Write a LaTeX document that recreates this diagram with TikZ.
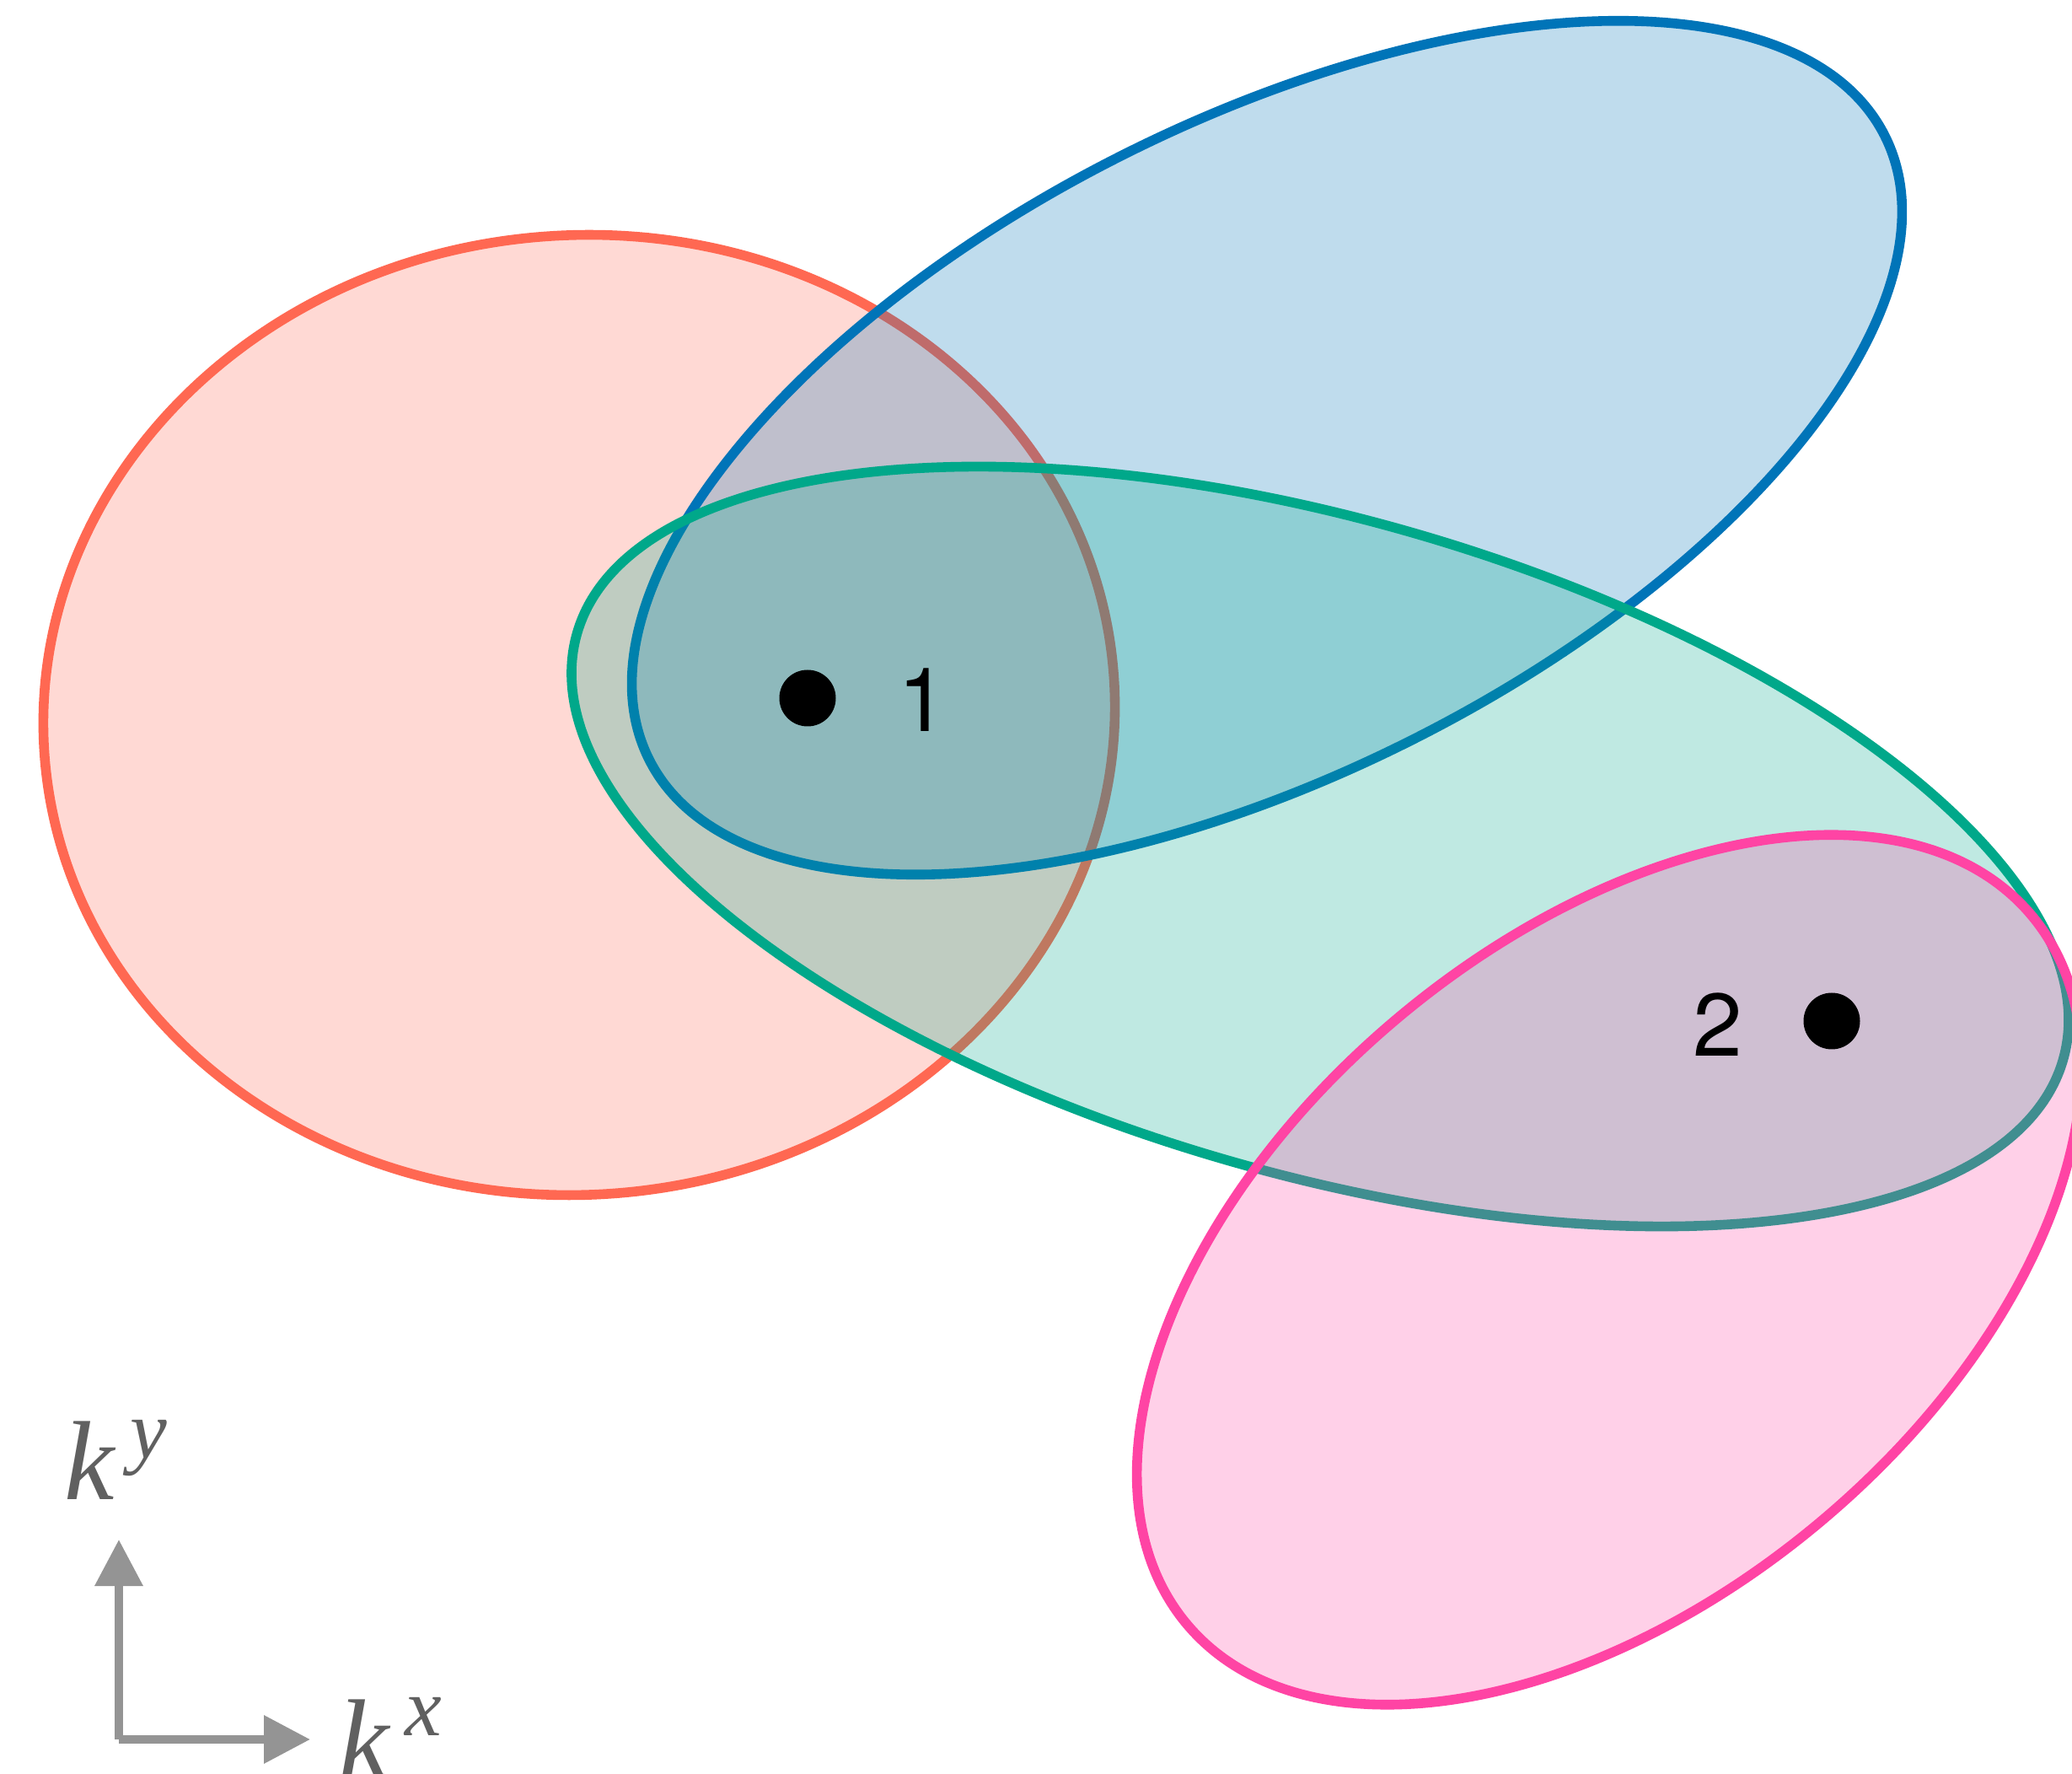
\documentclass[tikz,border=0pt]{standalone}
\usepackage{fontspec}
\usepackage{tikz}
\usetikzlibrary{arrows.meta,positioning}
\newfontfamily\helv{TeX Gyre Heros}
\newfontfamily\tms{Liberation Serif}
\newcommand{\kcomp}[1]{k\kern0.14em\raisebox{0.37em}{\fontsize{28}{29}\selectfont #1}}
\definecolor{regionA}{RGB}{255,104,82}
\definecolor{regionB}{RGB}{0,116,184}
\definecolor{regionC}{RGB}{0,168,138}
\definecolor{regionD}{RGB}{255,68,164}
\definecolor{axiscolor}{RGB}{148,148,148}
\definecolor{axislabel}{RGB}{96,96,96}

\begin{document}
\begin{tikzpicture}[
  region/.style={line width=3.3pt,fill opacity=0.25},
  pt/.style={circle,fill=black,inner sep=0pt,minimum size=0.67cm},
  ptlabel/.style={font=\helv\fontsize{30}{32}\selectfont,inner sep=0pt},
  axis/.style={line width=0.1cm,axiscolor,-{Triangle[length=0.55cm,width=0.55cm]}},
  axislbl/.style={font=\tms\itshape\fontsize{38}{40}\selectfont,text=axislabel,inner sep=0pt,anchor=base west}
]
\useasboundingbox (0,0) rectangle (24.58,21.03);
% momentum-space regions
\draw[region,draw=regionA,fill=regionA,shift={(6.87,12.55)},rotate=4.6]
  (0,0) ellipse [x radius=6.36,y radius=5.69];
\draw[region,draw=regionB,fill=regionB,shift={(15.03,15.72)},rotate=26.8]
  (0,0) ellipse [x radius=8.21,y radius=3.87];
\draw[region,draw=regionC,fill=regionC,shift={(15.66,10.99)},rotate=-16]
  (0,0) ellipse [x radius=9.17,y radius=3.88];
\draw[region,draw=regionD,fill=regionD,shift={(19.09,5.97)},rotate=40]
  (0,0) ellipse [x radius=6.54,y radius=3.90];
% points
\node[pt] (p1) at (9.58,12.75) {};
\node[pt] (p2) at (21.73,8.92) {};
\node[ptlabel] (l1) at (10.95,12.73) {1};
\node[ptlabel] (l2) at (20.38,8.88) {2};
% axes
\coordinate (o) at (1.41,0.40);
\coordinate (ytip) at (1.41,2.77);
\coordinate (xtip) at (3.68,0.40);
\draw[axis] (o) -- (ytip);
\draw[axis] (o) -- (xtip);
\node[axislbl] (ky) at (0.76,3.24) {\kcomp{y}};
\node[axislbl] (kx) at (4.02,-0.05) {\kcomp{x}};
\end{tikzpicture}
\end{document}
